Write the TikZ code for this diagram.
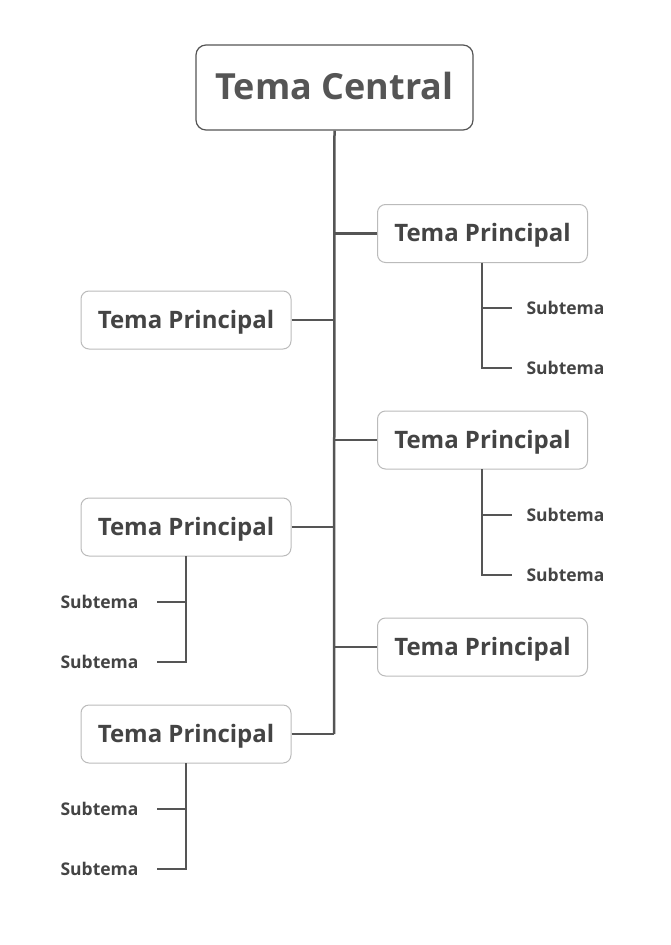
\documentclass[tikz,border=0pt]{standalone}
\usepackage{fontspec}
\setmainfont{Open Sans}
\definecolor{ln}{HTML}{555555}
\definecolor{bd}{HTML}{BBBBBB}
\definecolor{tx}{HTML}{444444}
\begin{document}
\begin{tikzpicture}[x=1pt,y=-1pt,
  main/.style={draw=bd,line width=1pt,rounded corners=8pt,fill=white,minimum width=210pt,minimum height=58pt,text=tx,font=\bfseries\fontsize{24}{27}\selectfont,text depth=2pt},
  sub/.style={text=tx,font=\bfseries\fontsize{17.5}{20}\selectfont},
  conn/.style={draw=ln,line width=2.5pt}]
\useasboundingbox (0,0) rectangle (670,945);
\node[draw=ln,line width=1.2pt,rounded corners=10pt,minimum width=277pt,minimum height=85pt,text=ln,font=\bfseries\fontsize{36}{40}\selectfont,text depth=3pt] (c) at (334.5,87.5) {Tema Central};
\node[main] (r1) at (482.5,233.5) {Tema Principal};
\node[main] (r2) at (482.5,440) {Tema Principal};
\node[main] (r3) at (482.5,647) {Tema Principal};
\node[main] (l1) at (186,320) {Tema Principal};
\node[main] (l2) at (186,527) {Tema Principal};
\node[main] (l3) at (186,734) {Tema Principal};
\coordinate (tb) at (334,734);
\draw[conn] (c.south) -- (tb);
\draw[conn] (334,233.5) -- (r1.west);
\draw[conn] (334,440) -- (r2.west);
\draw[conn] (334,647) -- (r3.west);
\draw[conn] (l1.east) -- (334,320);
\draw[conn] (l2.east) -- (334,527);
\draw[conn] (l3.east) -- (tb);
% right subtopics
\node[sub,anchor=west] (r1a) at (523,308) {Subtema};
\node[sub,anchor=west] (r1b) at (523,368) {Subtema};
\node[sub,anchor=west] (r2a) at (523,515) {Subtema};
\node[sub,anchor=west] (r2b) at (523,575) {Subtema};
\draw[conn] (482,262.5) |- ([xshift=-11pt]r1b.west);
\draw[conn] (482,308) -- ([xshift=-11pt]r1a.west);
\draw[conn] (482,469) |- ([xshift=-11pt]r2b.west);
\draw[conn] (482,515) -- ([xshift=-11pt]r2a.west);
% left subtopics
\node[sub,anchor=east] (l2a) at (142,602) {Subtema};
\node[sub,anchor=east] (l2b) at (142,662) {Subtema};
\node[sub,anchor=east] (l3a) at (142,809) {Subtema};
\node[sub,anchor=east] (l3b) at (142,869) {Subtema};
\draw[conn] (186,556) |- ([xshift=15pt]l2b.east);
\draw[conn] (186,602) -- ([xshift=15pt]l2a.east);
\draw[conn] (186,763) |- ([xshift=15pt]l3b.east);
\draw[conn] (186,809) -- ([xshift=15pt]l3a.east);
\end{tikzpicture}
\end{document}
